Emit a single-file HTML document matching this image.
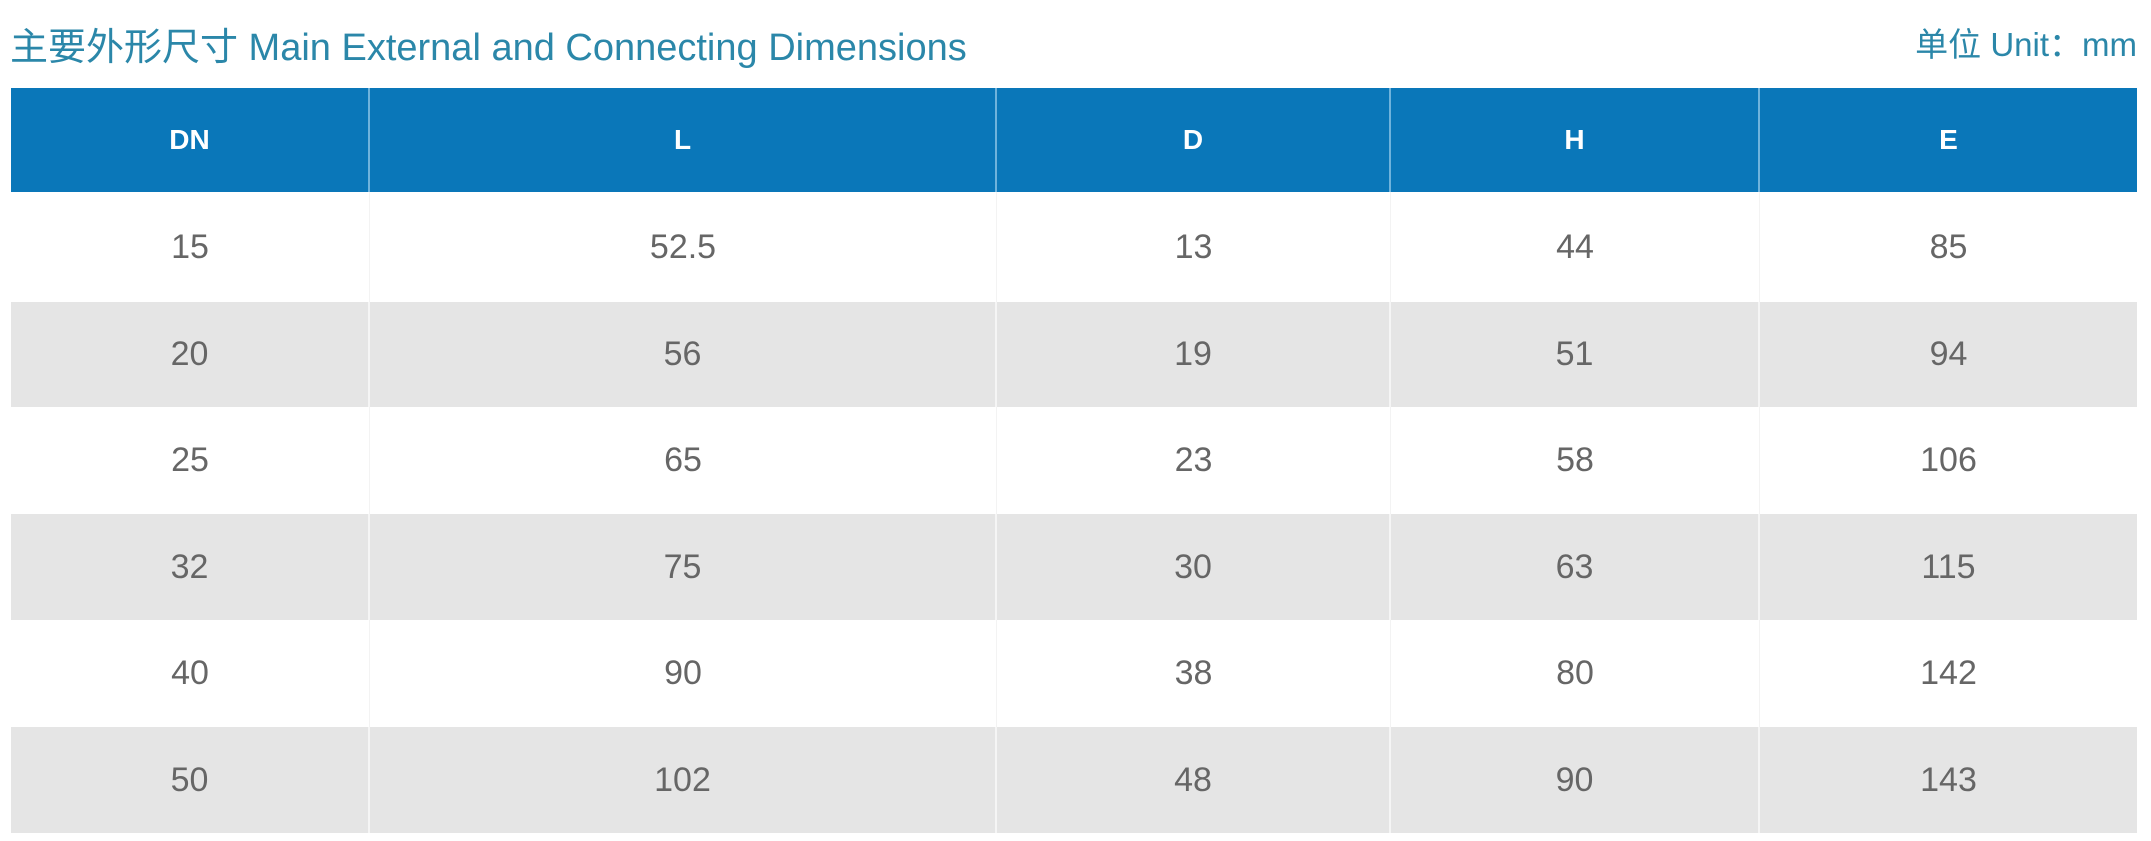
<!DOCTYPE html>
<html><head><meta charset="utf-8"><style>
body{margin:0;width:2151px;height:841px;background:#fff;position:relative;overflow:hidden;font-family:"Liberation Sans","Noto Sans CJK SC",sans-serif}
.t{position:absolute;white-space:nowrap}
.cell{position:absolute;display:flex;align-items:center;justify-content:center;box-sizing:border-box}
</style></head><body>
<div class="t" style="left:10px;top:16px;font-size:38px;color:#2b87a9;">主要外形尺寸 Main External and Connecting Dimensions</div>
<div class="t" style="right:14px;top:18px;font-size:33px;color:#2b87a9;">单位 Unit：mm</div>
<div id="tbl"></div>
<script>
const headers=["DN","L","D","H","E"];
const colDN=["15","20","25","32","40","50"];
const colL=["52.5","56","65","75","90","102"];
const colD=["13","19","23","30","38","48"];
const colH=["44","51","58","63","80","90"];
const colE=["85","94","106","115","142","143"];
const cols=[11,370,997,1391,1760,2137];
const rows=[88,192,302,407,514,620,727,833];
const tbl=document.getElementById('tbl');
const data=[colDN,colL,colD,colH,colE];
function cell(x0,x1,y0,y1,txt,bg,col,fs,bold,line){
  const d=document.createElement('div');
  d.className='cell';
  d.style.cssText=`left:${x0}px;top:${y0}px;width:${x1-x0}px;height:${y1-y0}px;background:${bg};color:${col};font-size:${fs}px;font-weight:${bold?'bold':'normal'};border-right:${line}`;
  d.textContent=txt;
  tbl.appendChild(d);
  return d;
}
for(let c=0;c<5;c++){
  const h=cell(cols[c],cols[c+1],rows[0],rows[1],headers[c],'#0a77b9','#fff',28,true,c<4?'2px solid #6fb3dc':'none');
  
  
  for(let r=0;r<6;r++){
    const bg=r%2? '#e5e5e5':'#fff';
    const d=cell(cols[c],cols[c+1],rows[r+1],rows[r+2],data[c][r],bg,'#666',34,false,c<4?(r%2?'2px solid #f5f5f5':'1px solid #f3f3f3'):'none');
    
    
  }
}
</script>
</body></html>
